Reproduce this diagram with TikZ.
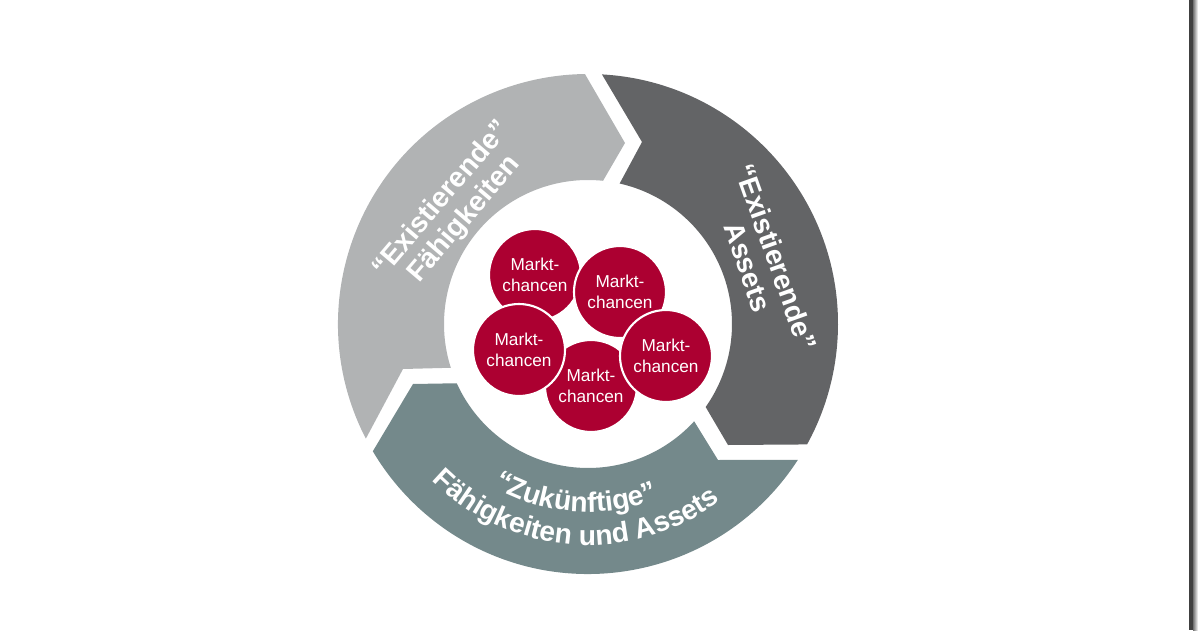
\documentclass[tikz,border=0pt]{standalone}
\usepackage{fontspec}
\setmainfont{Liberation Sans}
\usetikzlibrary{decorations.text}
\definecolor{segLight}{RGB}{177,179,180}
\definecolor{segDark}{RGB}{99,100,102}
\definecolor{segTeal}{RGB}{116,137,139}
\definecolor{mcRed}{RGB}{172,0,49}
\newcommand{\lblfont}{\color{white}\bfseries\fontsize{16}{17}\selectfont}

\begin{document}
\begin{tikzpicture}[x=0.2mm, y=0.2mm,
  chance/.style={circle, fill=mcRed, draw=white, line width=1.2pt, minimum size=18.4mm, inner sep=0pt,
    align=center, text=white, font=\fontsize{9.8}{11.6}\selectfont},
  lbl/.style={align=center, text=white, inner sep=0pt, font=\lblfont},
  curved/.style={decorate, decoration={text along path, text align=center, text={|\lblfont|#1}}}]
\useasboundingbox (-588,-306) rectangle (612,324);
\fill[segLight] (207.3:250) arc[start angle=207.3, end angle=90.7, radius=250] -- (37,181)
  -- (84:144) arc[start angle=84, end angle=197.7, radius=144] -- (-185,-45) -- cycle;
\fill[segDark] (86.8:250) arc[start angle=86.8, end angle=-28.8, radius=250] -- (140,-121)
  -- (-35.2:144) arc[start angle=-35.2, end angle=77.3, radius=144] -- (54,182) -- cycle;
\fill[segTeal] (-32.9:250) arc[start angle=-32.9, end angle=-149.4, radius=250] -- (-175,-60)
  -- (-155.7:144) arc[start angle=-155.7, end angle=-42.5, radius=144] -- (130,-136) -- cycle;
\node[lbl, rotate=49.6] (capab) at (139.6:177) {“Existierende”\\Fähigkeiten};
\node[lbl, rotate=-70.4] (assets) at (19.6:185) {“Existierende”\\Assets};
\path[curved={“Zukünftige”}] (-144:188) arc[start angle=-144, end angle=-44, radius=188];
\path[curved={Fähigkeiten und Assets}] (-154:221) arc[start angle=-154, end angle=-34, radius=221];
\node[chance] (mc1) at (-53,49) {Markt-\\chancen};
\node[chance] (mc2) at (32,32) {Markt-\\chancen};
\node[chance] (mc4) at (3,-62) {Markt-\\chancen};
\node[chance] (mc3) at (-69,-26) {Markt-\\chancen};
\node[chance] (mc5) at (78,-32) {Markt-\\chancen};
\fill[black!75] (601,-306) rectangle (605,324);
\shade[left color=black!55, right color=white] (605,-306) rectangle (610,324);
\end{tikzpicture}
\end{document}
